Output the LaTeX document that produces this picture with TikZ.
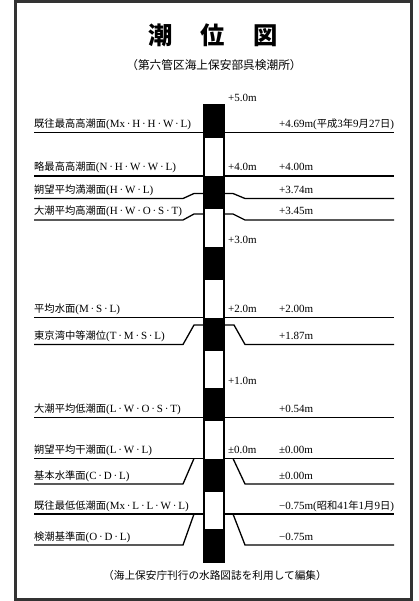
\documentclass[tikz,border=0pt]{standalone}
\usepackage{fontspec}
\setmainfont{Liberation Serif}
\newfontfamily\cjk[Scale=0.935]{Noto Sans CJK JP}
\newcommand{\jp}[1]{{\cjk #1}}
\newcommand{\md}{\,·\,}
\usepackage{tikz}

\begin{document}
\begin{tikzpicture}[x=1pt,y=-1pt,
    level/.style={line width=1.3pt},
    lbl/.style={anchor=base west,inner sep=0pt,font=\fontsize{11}{13}\selectfont}]
    \useasboundingbox (0,0) rectangle (418,601);
    \draw[line width=3pt,black!80] (15.3,1.5) rectangle (411.5,599);

    % title
    \node[font=\cjk\bfseries\fontsize{26}{26}\selectfont] (title) at (213,35) {潮\hspace{28pt}位\hspace{28pt}図};
    \node[font=\cjk\fontsize{12.5}{14}\selectfont] (place) at (214,65) {（第六管区海上保安部呉検潮所）};
    \node[font=\cjk\fontsize{11.4}{14}\selectfont] (note) at (215,575) {（海上保安庁刊行の水路図誌を利用して編集）};

    % staff
    \fill (204,105) rectangle (224,138);
    \fill (204,176) rectangle (224,209);
    \fill (204,247) rectangle (224,280);
    \fill (204,317.5) rectangle (224,350.5);
    \fill (204,388) rectangle (224,421);
    \fill (204,458.5) rectangle (224,491.5);
    \fill (204,529) rectangle (224,562);
    \draw[line width=1.2pt] (204,105) rectangle (224,562);

    % levels, left and right of the staff
    \draw[level] (34,132.5) -- (204,132.5);
    \draw[level] (224,132.5) -- (394,132.5);
    \draw[level] (34,176) -- (204,176);
    \draw[level] (224,176) -- (394,176);
    \draw[level] (34,198.5) -- (183,198.5) -- (194,193.5) -- (204,193.5);
    \draw[level] (224,193.5) -- (233,193.5) -- (245,198.5) -- (394,198.5);
    \draw[level] (34,220) -- (183,220) -- (194,214) -- (204,214);
    \draw[level] (224,214) -- (233,214) -- (245,220) -- (394,220);
    \draw[level] (34,317.5) -- (204,317.5);
    \draw[level] (224,317.5) -- (394,317.5);
    \draw[level] (34,344.5) -- (183,344.5) -- (194,325) -- (204,325);
    \draw[level] (224,325) -- (234,325) -- (245,344.5) -- (394,344.5);
    \draw[level] (34,417.5) -- (204,417.5);
    \draw[level] (224,417.5) -- (394,417.5);
    \draw[level] (34,458.5) -- (204,458.5);
    \draw[level] (224,458.5) -- (394,458.5);
    \draw[level] (34,484) -- (183,484) -- (194,458.5);
    \draw[level] (233,458.5) -- (245,484) -- (394,484);
    \draw[level] (34,514) -- (204,514);
    \draw[level] (224,514) -- (394,514);
    \draw[level] (34,545) -- (183,545) -- (194,514);
    \draw[level] (233,514) -- (245,545) -- (394,545);

    % staff marks
    \node[lbl] (s5) at (228,102) {+5.0m};
    \node[lbl] (s4) at (228,171) {+4.0m};
    \node[lbl] (s3) at (228,243.5) {+3.0m};
    \node[lbl] (s2) at (228,312.5) {+2.0m};
    \node[lbl] (s1) at (228,384) {+1.0m};
    \node[lbl] (s0) at (228,453.5) {±0.0m};

    % names of the levels
    \node[lbl] (mxhhwl) at (34,127.5) {\jp{既往最高高潮面}(Mx\md H\md H\md W\md L)};
    \node[lbl] (nhwwl) at (34,171) {\jp{略最高高潮面}(N\md H\md W\md W\md L)};
    \node[lbl] (hwl) at (34,193.5) {\jp{朔望平均満潮面}(H\md W\md L)};
    \node[lbl] (hwost) at (34,215) {\jp{大潮平均高潮面}(H\md W\md O\md S\md T)};
    \node[lbl] (msl) at (34,312.5) {\jp{平均水面}(M\md S\md L)};
    \node[lbl] (tmsl) at (34,339.5) {\jp{東京湾中等潮位}(T\md M\md S\md L)};
    \node[lbl] (lwost) at (34,412.5) {\jp{大潮平均低潮面}(L\md W\md O\md S\md T)};
    \node[lbl] (lwl) at (34,453.5) {\jp{朔望平均干潮面}(L\md W\md L)};
    \node[lbl] (cdl) at (34,479) {\jp{基本水準面}(C\md D\md L)};
    \node[lbl] (mxllwl) at (34,509) {\jp{既往最低低潮面}(Mx\md L\md L\md W\md L)};
    \node[lbl] (odl) at (34,540) {\jp{検潮基準面}(O\md D\md L)};

    % heights
    \node[lbl] (v-mxhhwl) at (279,127.5) {+4.69m(\jp{平成}3\jp{年}9\jp{月}27\jp{日})};
    \node[lbl] (v-nhwwl) at (279,171) {+4.00m};
    \node[lbl] (v-hwl) at (279,193.5) {+3.74m};
    \node[lbl] (v-hwost) at (279,215) {+3.45m};
    \node[lbl] (v-msl) at (279,312.5) {+2.00m};
    \node[lbl] (v-tmsl) at (279,339.5) {+1.87m};
    \node[lbl] (v-lwost) at (279,412.5) {+0.54m};
    \node[lbl] (v-lwl) at (279,453.5) {±0.00m};
    \node[lbl] (v-cdl) at (279,479) {±0.00m};
    \node[lbl] (v-mxllwl) at (279,509) {−0.75m(\jp{昭和}41\jp{年}1\jp{月}9\jp{日})};
    \node[lbl] (v-odl) at (279,540) {−0.75m};
\end{tikzpicture}
\end{document}
